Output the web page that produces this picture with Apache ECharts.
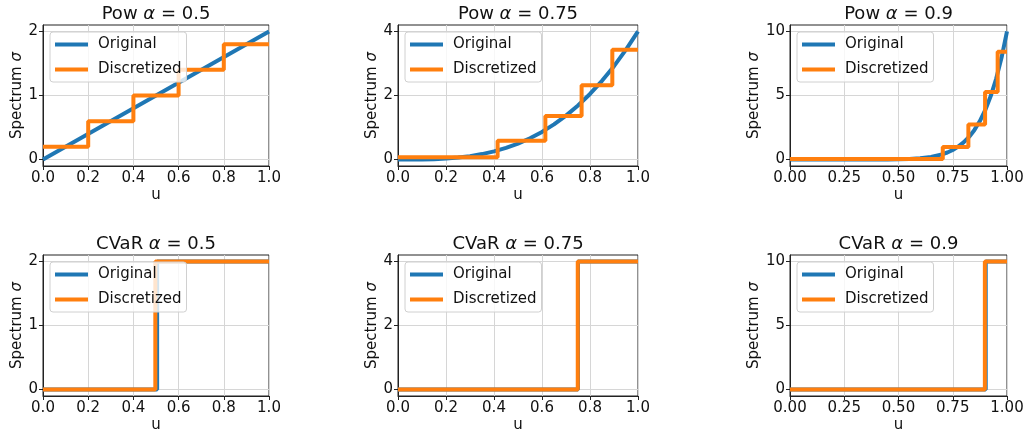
<!DOCTYPE html>
<html>
<head>
<meta charset="utf-8">
<title>Spectrum discretization</title>
<script src="https://cdn.jsdelivr.net/npm/echarts@6/dist/echarts.min.js"></script>
<style>
  html, body { margin: 0; padding: 0; background: #fff; }
  #chart { width: 1028px; height: 436px; }
</style>
</head>
<body>
<div id="chart"></div>
<script>
  // panel titles
  const panelKinds = ['Pow', 'Pow', 'Pow', 'CVaR', 'CVaR', 'CVaR'];
  const panelAlphas = ['0.5', '0.75', '0.9', '0.5', '0.75', '0.9'];

  // axis limits and ticks (per column)
  const yMins = [-0.1, -0.2, -0.5];
  const yMaxs = [2.1, 4.2, 10.5];
  const yTicks = [[0, 1, 2], [0, 2, 4], [0, 5, 10]];
  const xIntervals = [0.2, 0.2, 0.25];
  const xDigits = [1, 1, 2];

  // Pow alpha = 0.5 : original curve
  const pow05U = [0, 0.25, 0.5, 0.75, 1];
  const pow05V = [0, 0.5, 1, 1.5, 2];
  // discretized steps
  const pow05StepU = [0, 0.2, 0.4, 0.6, 0.8, 1.0];
  const pow05StepV = [0.2, 0.6, 1.0, 1.4, 1.8, 1.8];

  // Pow alpha = 0.75
  const pow075U = [0, 0.05, 0.1, 0.15, 0.2, 0.25, 0.3, 0.35, 0.4, 0.45, 0.5,
    0.55, 0.6, 0.65, 0.7, 0.75, 0.8, 0.85, 0.9, 0.95, 1];
  const pow075V = [0, 0.0005, 0.004, 0.014, 0.032, 0.063, 0.108, 0.172, 0.256, 0.365, 0.5,
    0.666, 0.864, 1.099, 1.372, 1.688, 2.048, 2.457, 2.916, 3.43, 4];
  const pow075StepU = [0, 0.415, 0.614, 0.765, 0.893, 1.0];
  const pow075StepV = [0.07, 0.59, 1.36, 2.32, 3.43, 3.43];

  // Pow alpha = 0.9
  const pow09U = [0, 0.1, 0.2, 0.3, 0.4, 0.45, 0.5, 0.55, 0.6, 0.65, 0.7, 0.725, 0.75,
    0.775, 0.8, 0.825, 0.85, 0.875, 0.9, 0.925, 0.95, 0.975, 1];
  const pow09V = [0, 0, 0, 0, 0.003, 0.008, 0.02, 0.046, 0.101, 0.207, 0.404, 0.553, 0.751,
    1.009, 1.342, 1.77, 2.316, 3.007, 3.874, 4.958, 6.302, 7.962, 10];
  const pow09StepU = [0, 0.704, 0.822, 0.899, 0.957, 1.0];
  const pow09StepV = [0.04, 0.99, 2.73, 5.28, 8.42, 8.42];

  // CVaR alpha = 0.5
  const cvar05U = [0, 0.505, 0.505, 1];
  const cvar05V = [0, 0, 2, 2];
  const cvar05StepU = [0, 0.497, 1.0];
  const cvar05StepV = [0, 2, 2];

  // CVaR alpha = 0.75
  const cvar075U = [0, 0.75, 0.75, 1];
  const cvar075V = [0, 0, 4, 4];
  const cvar075StepU = [0, 0.749, 1.0];
  const cvar075StepV = [0, 4, 4];

  // CVaR alpha = 0.9
  const cvar09U = [0, 0.902, 0.902, 1];
  const cvar09V = [0, 0, 10, 10];
  const cvar09StepU = [0, 0.898, 1.0];
  const cvar09StepV = [0, 10, 10];

  const origU = [pow05U, pow075U, pow09U, cvar05U, cvar075U, cvar09U];
  const origV = [pow05V, pow075V, pow09V, cvar05V, cvar075V, cvar09V];
  const stepU = [pow05StepU, pow075StepU, pow09StepU, cvar05StepU, cvar075StepU, cvar09StepU];
  const stepV = [pow05StepV, pow075StepV, pow09StepV, cvar05StepV, cvar075StepV, cvar09StepV];

  // layout (px)
  const colLeft = [43, 398, 790];
  const colWidth = [226, 240, 217];
  const rowTop = [25, 255];
  const plotHeight = 141;
  const yNameGap = [17, 17, 27];

  const font = 'DejaVu Sans';
  const blue = '#1f77b4';
  const orange = '#ff7f0e';

  const zip = (u, v) => u.map((x, i) => [x, v[i]]);

  const grids = [], xAxes = [], yAxes = [], series = [], titles = [], legends = [];

  for (let p = 0; p < 6; p++) {
    const col = p % 3;
    const row = Math.floor(p / 3);
    const left = colLeft[col];
    const top = rowTop[row];

    grids.push({
      left: left, top: top, width: colWidth[col], height: plotHeight,
      show: true, borderColor: '#222', borderWidth: 1, backgroundColor: 'transparent'
    });

    xAxes.push({
      gridIndex: p, type: 'value', min: 0, max: 1, interval: xIntervals[col],
      name: 'u', nameLocation: 'middle', nameGap: 22,
      nameTextStyle: { fontFamily: font, fontSize: 15, color: '#111' },
      axisLine: { show: true, onZero: false, lineStyle: { color: '#222', width: 1 } },
      axisTick: { show: true, inside: false, length: 4, lineStyle: { color: '#222' } },
      axisLabel: {
        fontFamily: font, fontSize: 15, color: '#111', margin: 5,
        formatter: v => v.toFixed(xDigits[col])
      },
      splitLine: { show: true, lineStyle: { color: '#d6d6d6', width: 1 } }
    });

    yAxes.push({
      gridIndex: p, type: 'value', min: yMins[col], max: yMaxs[col],
      name: 'Spectrum {i|σ}', nameLocation: 'middle', nameGap: yNameGap[col],
      nameTextStyle: {
        fontFamily: font, fontSize: 15, color: '#111',
        rich: { i: { fontFamily: font, fontSize: 15, fontStyle: 'italic', color: '#111' } }
      },
      axisLine: { show: true, onZero: false, lineStyle: { color: '#222', width: 1 } },
      axisTick: { show: true, inside: false, length: 4, customValues: yTicks[col], lineStyle: { color: '#222' } },
      axisLabel: {
        fontFamily: font, fontSize: 15, color: '#111', margin: 5,
        customValues: yTicks[col]
      },
      splitLine: { show: true, lineStyle: { color: '#d6d6d6', width: 1 } }
    });

    series.push({
      name: 'Original', type: 'line', xAxisIndex: p, yAxisIndex: p,
      data: zip(origU[p], origV[p]), showSymbol: false, symbol: 'none',
      lineStyle: { color: blue, width: 4 }, itemStyle: { color: blue },
      clip: true, z: 2
    });
    series.push({
      name: 'Discretized', type: 'line', xAxisIndex: p, yAxisIndex: p,
      data: zip(stepU[p], stepV[p]), step: 'end', showSymbol: false, symbol: 'none',
      lineStyle: { color: orange, width: 4 }, itemStyle: { color: orange },
      clip: true, z: 3
    });

    titles.push({
      text: panelKinds[p] + ' {a|α} = ' + panelAlphas[p],
      left: left + colWidth[col] / 2, top: top - 20, textAlign: 'center', padding: 0,
      textStyle: {
        fontFamily: font, fontSize: 18, fontWeight: 'normal', color: '#111',
        rich: { a: { fontFamily: font, fontSize: 18, fontStyle: 'italic', color: '#111' } }
      }
    });

    legends.push({
      data: ['Original', 'Discretized'],
      orient: 'vertical', left: left + 7, top: top + 7,
      icon: 'rect', itemWidth: 33, itemHeight: 4, itemGap: 10,
      padding: [5, 5, 5, 5],
      backgroundColor: 'rgba(255,255,255,0.8)', borderColor: '#d0d0d0',
      borderWidth: 1, borderRadius: 3,
      textStyle: { fontFamily: font, fontSize: 15, color: '#111', padding: [0, 0, 0, 5] },
      selectedMode: false, z: 10
    });
  }

  const chart = echarts.init(document.getElementById('chart'));
  chart.setOption({
    animation: false,
    backgroundColor: '#fff',
    title: titles,
    legend: legends,
    grid: grids,
    xAxis: xAxes,
    yAxis: yAxes,
    series: series
  });
</script>
</body>
</html>
